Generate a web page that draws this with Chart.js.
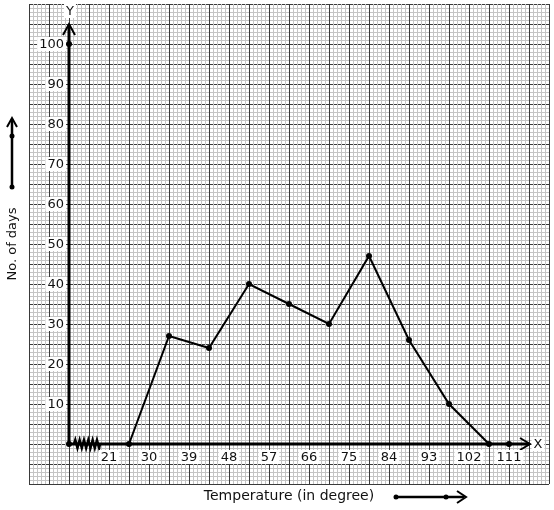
<!DOCTYPE html>
<html>
<head>
<meta charset="utf-8">
<script src="https://cdn.jsdelivr.net/npm/chart.js@4"></script>
<style>
  html, body { margin: 0; padding: 0; background: #fff; }
  #wrap { width: 554px; height: 510px; }
</style>
</head>
<body>
<div id="wrap"><canvas id="chart" width="554" height="510"></canvas></div>
<script>
// class marks (mid points of 21-30, 30-39, ...) and number of days
const classMarks = [25.5, 34.5, 43.5, 52.5, 61.5, 70.5, 79.5, 88.5, 97.5, 106.5];
const days = [0, 27, 24, 40, 35, 30, 47, 26, 10, 0];

// tick labels
const xTicks = [21, 30, 39, 48, 57, 66, 75, 84, 93, 102, 111];
const yTicks = [10, 20, 30, 40, 50, 60, 70, 80, 90, 100];

// extra dots marked on the axes
const axisDotsX = [12, 12, 111];
const axisDotsY = [0, 100, 0];

const originX = 12;
const xMin = 3, xMax = 120, yMin = -10, yMax = 110;

const FONT = '"DejaVu Sans", sans-serif';

// graph paper + axes + labels
const graphPaper = {
  id: 'graphPaper',
  beforeDatasetsDraw(chart) {
    const { ctx, chartArea: a, scales: { x, y } } = chart;
    ctx.save();
    ctx.fillStyle = '#fff';
    ctx.fillRect(a.left, a.top, a.right - a.left, a.bottom - a.top);

    const px = v => Math.round(x.getPixelForValue(v)) + 0.5;
    const py = v => Math.round(y.getPixelForValue(v)) + 0.5;
    const nx = Math.round((xMax - xMin) / 0.9);
    const ny = yMax - yMin;

    ctx.lineWidth = 1;
    // minor horizontal
    ctx.strokeStyle = '#c4c4c4';
    for (let i = 0; i <= ny; i++) {
      if (i % 5 === 0) continue;
      const yy = py(yMin + i);
      ctx.beginPath(); ctx.moveTo(a.left, yy); ctx.lineTo(a.right, yy); ctx.stroke();
    }
    // major horizontal
    ctx.strokeStyle = '#3a3a3a';
    for (let i = 0; i <= ny; i += 5) {
      const yy = py(yMin + i);
      ctx.beginPath(); ctx.moveTo(a.left, yy); ctx.lineTo(a.right, yy); ctx.stroke();
    }
    // minor vertical (drawn over the dark horizontals)
    ctx.strokeStyle = '#c4c4c4';
    for (let i = 0; i <= nx; i++) {
      if (i % 5 === 0) continue;
      const xx = px(xMin + i * 0.9);
      ctx.beginPath(); ctx.moveTo(xx, a.top); ctx.lineTo(xx, a.bottom); ctx.stroke();
    }
    // major vertical
    ctx.strokeStyle = '#3a3a3a';
    for (let i = 0; i <= nx; i += 5) {
      const xx = px(xMin + i * 0.9);
      ctx.beginPath(); ctx.moveTo(xx, a.top); ctx.lineTo(xx, a.bottom); ctx.stroke();
    }

    // axes
    const ox = x.getPixelForValue(originX);
    const oy = y.getPixelForValue(0);
    ctx.strokeStyle = '#000';
    ctx.lineWidth = 3;
    ctx.beginPath();
    ctx.moveTo(ox, oy); ctx.lineTo(ox, a.top + 21);
    ctx.moveTo(ox, oy); ctx.lineTo(a.right - 20, oy);
    ctx.stroke();
    ctx.lineWidth = 2;
    ctx.beginPath();
    ctx.moveTo(ox - 6, a.top + 31); ctx.lineTo(ox, a.top + 20); ctx.lineTo(ox + 6, a.top + 31);
    ctx.moveTo(a.right - 29, oy - 6); ctx.lineTo(a.right - 19, oy); ctx.lineTo(a.right - 29, oy + 6);
    ctx.stroke();

    // zig-zag (broken axis)
    ctx.lineWidth = 2.5;
    ctx.beginPath();
    const zx0 = ox + 5, zx1 = ox + 31, teeth = 6;
    const step = (zx1 - zx0) / teeth;
    ctx.moveTo(zx0, oy);
    for (let k = 0; k < teeth; k++) {
      ctx.lineTo(zx0 + step * (k + 0.3), oy - 4);
      ctx.lineTo(zx0 + step * (k + 0.8), oy + 4);
    }
    ctx.lineTo(zx1, oy);
    ctx.stroke();

    // labels with white boxes
    const label = (text, cx, cy, align) => {
      ctx.font = '13px ' + FONT;
      const w = ctx.measureText(text).width;
      let left = align === 'right' ? cx - w : cx - w / 2;
      ctx.fillStyle = '#fff';
      ctx.fillRect(left - 2, cy - 7, w + 4, 14);
      ctx.fillStyle = '#111';
      ctx.textBaseline = 'middle';
      ctx.textAlign = 'left';
      ctx.fillText(text, left, cy + 0.5);
    };
    xTicks.forEach(v => label(String(v), x.getPixelForValue(v), oy + 13, 'center'));
    yTicks.forEach(v => label(String(v), ox - 5, y.getPixelForValue(v), 'right'));
    label('Y', ox + 1, a.top + 7, 'center');
    label('X', a.right - 11, oy, 'center');
    ctx.restore();
  },
  afterDraw(chart) {
    const { ctx, chartArea: a } = chart;
    ctx.save();
    ctx.fillStyle = '#111';
    ctx.font = '13px ' + FONT;
    ctx.textAlign = 'center';
    ctx.textBaseline = 'middle';
    ctx.save();
    ctx.translate(13, 244);
    ctx.rotate(-Math.PI / 2);
    ctx.fillText('No. of days', 0, 0);
    ctx.restore();
    ctx.font = '14px ' + FONT;
    ctx.fillText('Temperature (in degree)', 289, a.bottom + 12);

    // direction arrows
    ctx.strokeStyle = '#000';
    ctx.fillStyle = '#000';
    ctx.lineWidth = 2.5;
    ctx.beginPath();
    ctx.moveTo(12, 187); ctx.lineTo(12, 119);
    ctx.moveTo(396, 497); ctx.lineTo(464, 497);
    ctx.stroke();
    ctx.lineWidth = 2;
    ctx.beginPath();
    ctx.moveTo(7, 127); ctx.lineTo(12, 118); ctx.lineTo(17, 127);
    ctx.moveTo(457, 491); ctx.lineTo(466, 497); ctx.lineTo(457, 503);
    ctx.stroke();
    [[12, 187], [12, 136], [396, 497], [446, 497]].forEach(([cx, cy]) => {
      ctx.beginPath(); ctx.arc(cx, cy, 2.5, 0, Math.PI * 2); ctx.fill();
    });
    ctx.restore();
  }
};

new Chart(document.getElementById('chart'), {
  type: 'scatter',
  data: {
    datasets: [
      {
        data: classMarks.map((v, i) => ({ x: v, y: days[i] })),
        showLine: true,
        borderColor: '#000',
        borderWidth: 2,
        pointRadius: 3,
        pointBackgroundColor: '#000',
        pointBorderColor: '#000',
        pointBorderWidth: 0
      },
      {
        data: axisDotsX.map((v, i) => ({ x: v, y: axisDotsY[i] })),
        showLine: false,
        pointRadius: 3,
        pointBackgroundColor: '#000',
        pointBorderColor: '#000',
        pointBorderWidth: 0
      }
    ]
  },
  options: {
    responsive: false,
    animation: false,
    layout: { padding: { left: 29, top: 4, right: 5, bottom: 26 } },
    plugins: { legend: { display: false }, tooltip: { enabled: false } },
    scales: {
      x: { type: 'linear', min: xMin, max: xMax, display: false },
      y: { type: 'linear', min: yMin, max: yMax, display: false }
    }
  },
  plugins: [graphPaper]
});
</script>
</body>
</html>
